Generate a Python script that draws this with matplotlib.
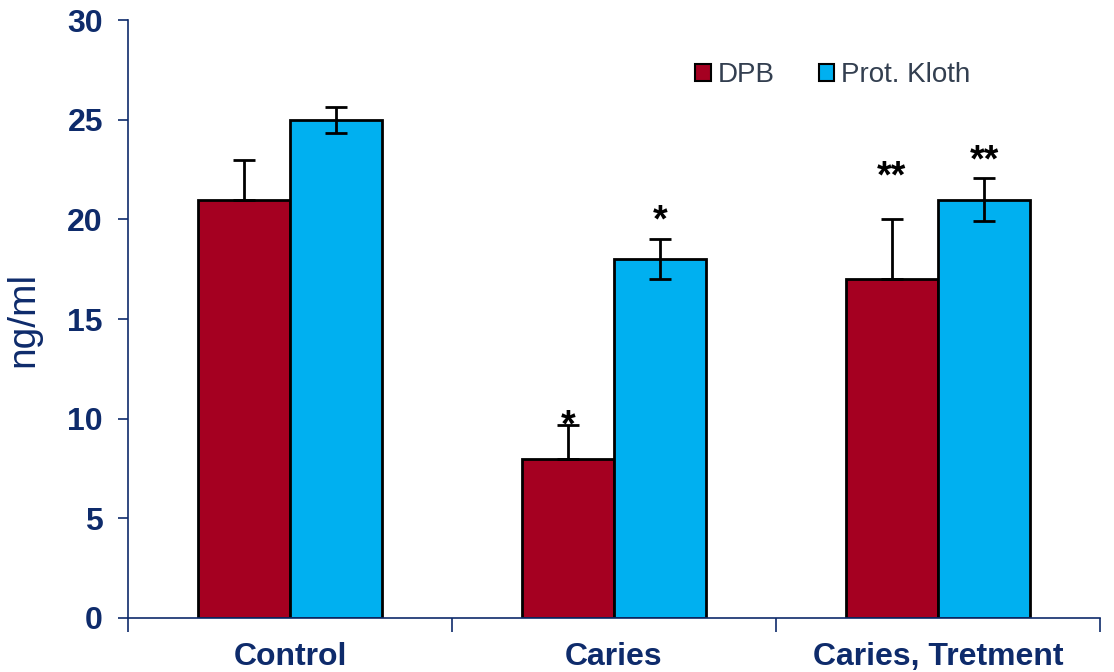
import numpy as np
import matplotlib.pyplot as plt
from matplotlib.patches import Patch

categories = ["Control", "Caries", "Caries, Tretment"]
dpb = [21, 8, 17]
dpb_err_up = [2.0, 1.7, 3.0]
kloth = [25, 18, 21]
kloth_err = [0.65, 1.0, 1.1]
dpb_marks = ["", "*", "**"]
kloth_marks = ["", "*", "**"]
dpb_mark_y = [0, 9.6, 22.1]
kloth_mark_y = [0, 19.9, 22.9]

navy = "#0E2B6B"
red = "#A50021"
blue = "#00B0F0"

plt.rcParams['font.family'] = ['Liberation Sans', 'DejaVu Sans']

fig = plt.figure(figsize=(11.14, 6.72), dpi=100)
ax = fig.add_axes([0.1149, 0.0804, 0.8725, 0.8896])

x = np.arange(len(categories))
w = 0.285
err_kw = dict(ecolor="black", elinewidth=2, capsize=8, capthick=2)
ax.bar(x - w/2, dpb, w, color=red, edgecolor="black", linewidth=2,
       yerr=[np.zeros(3), dpb_err_up], error_kw=err_kw, zorder=2)
ax.bar(x + w/2, kloth, w, color=blue, edgecolor="black", linewidth=2,
       yerr=kloth_err, error_kw=err_kw, zorder=2)

# significance stars
for i in range(3):
    if dpb_marks[i]:
        ax.text(x[i] - w/2, dpb_mark_y[i], dpb_marks[i], ha="center", va="center",
                fontsize=27, fontweight="bold", zorder=3)
    if kloth_marks[i]:
        ax.text(x[i] + w/2, kloth_mark_y[i], kloth_marks[i], ha="center", va="center",
                fontsize=27, fontweight="bold", zorder=3)

ax.set_xlim(-0.5, 2.5)
ax.set_ylim(0, 30)
ax.set_yticks([0, 5, 10, 15, 20, 25, 30])
ax.set_xticks(x)
ax.set_xticklabels(categories)
ax.set_xticks([-0.5, 0.5, 1.5, 2.5], minor=True)
ax.tick_params(axis="x", which="major", length=0, pad=17)
ax.tick_params(axis="x", which="minor", length=10, width=1.2, color=navy, direction="out")
ax.tick_params(axis="y", length=7, width=1.2, color=navy, direction="out", pad=11)
for lab in ax.get_xticklabels() + ax.get_yticklabels():
    lab.set_fontsize(23)
    lab.set_fontweight("bold")
    lab.set_color(navy)

for s in ["top", "right"]:
    ax.spines[s].set_visible(False)
for s in ["left", "bottom"]:
    ax.spines[s].set_color(navy)
    ax.spines[s].set_linewidth(1.2)

ax.set_ylabel("ng/ml", fontsize=28, color=navy)
ax.yaxis.set_label_coords(-0.089, 0.5)

handles = [Patch(facecolor=red, edgecolor="black", linewidth=1.5, label="DPB"),
           Patch(facecolor=blue, edgecolor="black", linewidth=1.5, label="Prot. Kloth")]
leg = ax.legend(handles=handles, loc="center left", bbox_to_anchor=(0.558, 0.908),
                ncol=2, frameon=False, fontsize=20, handlelength=0.55, handleheight=0.55,
                handletextpad=0.25, columnspacing=1.6, labelcolor="#333F50")

fig.savefig("out.png", dpi=100)
